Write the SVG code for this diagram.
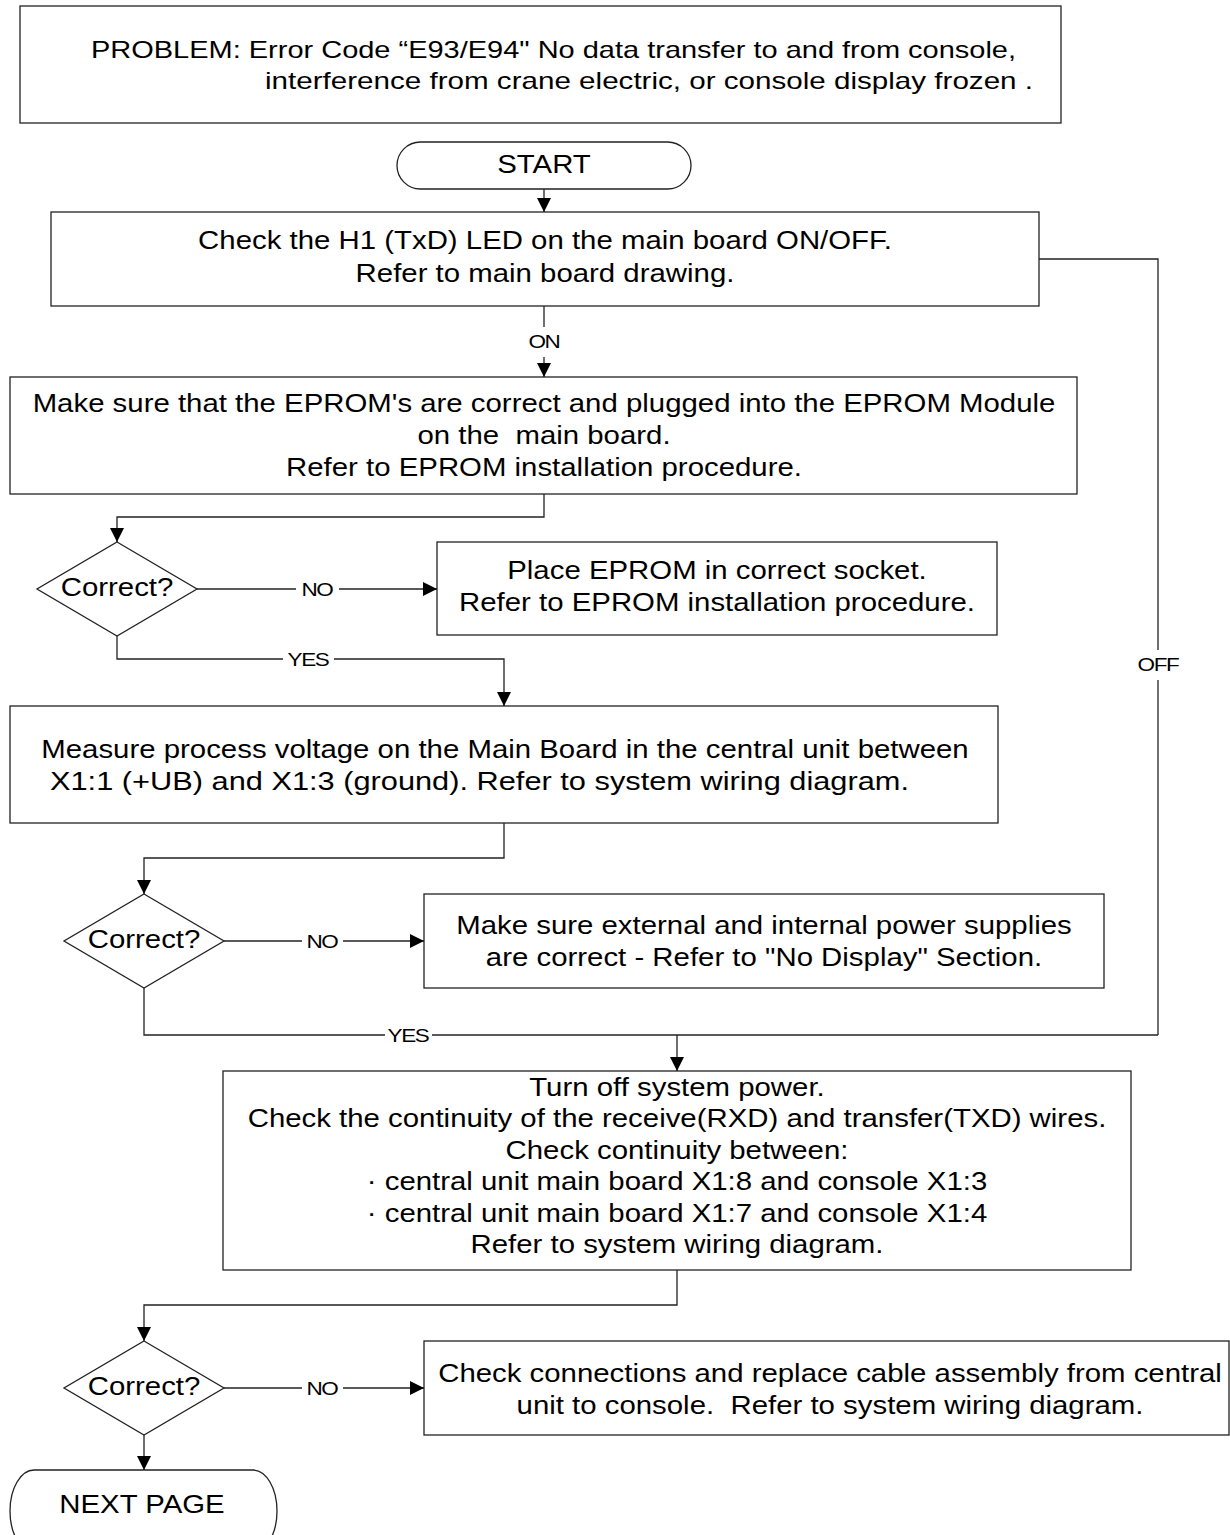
<svg xmlns="http://www.w3.org/2000/svg" width="1230" height="1535" viewBox="0 0 1230 1535">
<defs>
<style>
.box{fill:#fff;stroke:#222;stroke-width:1.3}
.ln{fill:none;stroke:#222;stroke-width:1.3}
.arr{fill:none;stroke:#222;stroke-width:1.3;marker-end:url(#ah)}
.t{font-family:"Liberation Sans",Arial,sans-serif;font-size:26px;fill:#000}
.tc{text-anchor:middle}
.top{font-family:"Liberation Sans",Arial,sans-serif;font-size:24px;fill:#000}
.lb{font-family:"Liberation Sans",Arial,sans-serif;font-size:18px;fill:#000;text-anchor:middle;letter-spacing:-1px}
</style>
<marker id="ah" viewBox="0 0 14 14" refX="14" refY="7" markerWidth="14" markerHeight="14" markerUnits="userSpaceOnUse" orient="auto">
<path d="M0,0 L14,7 L0,14 z" fill="#000"/>
</marker>
</defs>
<rect width="1230" height="1535" fill="#fff"/>

<g id="problem">
<rect class="box" x="20" y="6" width="1041" height="117"/>
<text class="top" x="91" y="58" textLength="925" lengthAdjust="spacingAndGlyphs">PROBLEM: Error Code “E93/E94" No data transfer to and from console,</text>
<text class="top" x="265" y="89" textLength="768" lengthAdjust="spacingAndGlyphs">interference from crane electric, or console display frozen .</text>
</g>

<g id="start">
<rect class="box" x="397" y="142" width="294" height="47" rx="23.5" ry="23.5"/>
<g transform="translate(544 0) scale(1.13 1)"><text class="t tc" x="0" y="173">START</text></g>
</g>

<g id="check-h1">
<rect class="box" x="51" y="212" width="988" height="94"/>
<g transform="translate(545 0) scale(1.13 1)">
<text class="t tc" x="0" y="249">Check the H1 (TxD) LED on the main board ON/OFF.</text>
<text class="t tc" x="0" y="282">Refer to main board drawing.</text>
</g>
</g>

<g id="eprom">
<rect class="box" x="10" y="377" width="1067" height="117"/>
<g transform="translate(544 0) scale(1.13 1)">
<text class="t tc" x="0" y="412">Make sure that the EPROM's are correct and plugged into the EPROM Module</text>
<text class="t tc" x="0" y="444" xml:space="preserve">on the  main board.</text>
<text class="t tc" x="0" y="476">Refer to EPROM installation procedure.</text>
</g>
</g>

<g id="decision1">
<polygon class="box" points="117,542 197,589 117,636 37,589"/>
<g transform="translate(117 0) scale(1.13 1)"><text class="t tc" x="0" y="596">Correct?</text></g>
</g>

<g id="place-eprom">
<rect class="box" x="437" y="542" width="560" height="93"/>
<g transform="translate(717 0) scale(1.13 1)">
<text class="t tc" x="0" y="579">Place EPROM in correct socket.</text>
<text class="t tc" x="0" y="611">Refer to EPROM installation procedure.</text>
</g>
</g>

<g id="measure">
<rect class="box" x="10" y="706" width="988" height="117"/>
<g transform="translate(505 0) scale(1.13 1)">
<text class="t tc" x="0" y="758">Measure process voltage on the Main Board in the central unit between</text>
</g>
<text class="t" x="50" y="790" textLength="859" lengthAdjust="spacingAndGlyphs">X1:1 (+UB) and X1:3 (ground). Refer to system wiring diagram.</text>
</g>

<g id="decision2">
<polygon class="box" points="144,894 224,941 144,988 64,941"/>
<g transform="translate(144 0) scale(1.13 1)"><text class="t tc" x="0" y="948">Correct?</text></g>
</g>

<g id="power-supplies">
<rect class="box" x="424" y="894" width="680" height="94"/>
<g transform="translate(764 0) scale(1.13 1)">
<text class="t tc" x="0" y="934">Make sure external and internal power supplies</text>
<text class="t tc" x="0" y="966">are correct - Refer to "No Display" Section.</text>
</g>
</g>

<g id="continuity">
<rect class="box" x="223" y="1071" width="908" height="199"/>
<g transform="translate(677 0) scale(1.13 1)">
<text class="t tc" x="0" y="1096">Turn off system power.</text>
<text class="t tc" x="0" y="1127">Check the continuity of the receive(RXD) and transfer(TXD) wires.</text>
<text class="t tc" x="0" y="1159">Check continuity between:</text>
<text class="t tc" x="0" y="1190">· central unit main board X1:8 and console X1:3</text>
<text class="t tc" x="0" y="1222">· central unit main board X1:7 and console X1:4</text>
<text class="t tc" x="0" y="1253">Refer to system wiring diagram.</text>
</g>
</g>

<g id="decision3">
<polygon class="box" points="144,1341 224,1388 144,1435 64,1388"/>
<g transform="translate(144 0) scale(1.13 1)"><text class="t tc" x="0" y="1395">Correct?</text></g>
</g>

<g id="replace-cable">
<rect class="box" x="424" y="1341" width="805" height="94"/>
<g transform="translate(830 0) scale(1.13 1)">
<text class="t tc" x="0" y="1382">Check connections and replace cable assembly from central</text>
<text class="t tc" x="0" y="1414" xml:space="preserve">unit to console.  Refer to system wiring diagram.</text>
</g>
</g>

<g id="next-page">
<rect class="box" x="10" y="1470" width="267" height="82" rx="24" ry="41"/>
<g transform="translate(142 0) scale(1.13 1)"><text class="t tc" x="0" y="1513">NEXT PAGE</text></g>
</g>

<g id="connectors">
<path class="arr" d="M544,189 V212"/>
<path class="ln" d="M544,306 V327"/>
<path class="arr" d="M544,357 V377"/>
<path class="arr" d="M544,494 V517 H117 V542"/>
<path class="ln" d="M197,589 H296"/>
<path class="arr" d="M339,589 H437"/>
<path class="ln" d="M117,636 V659 H283"/>
<path class="arr" d="M334,659 H504 V706"/>
<path class="arr" d="M504,823 V858 H144 V894"/>
<path class="ln" d="M224,941 H302"/>
<path class="arr" d="M343,941 H424"/>
<path class="ln" d="M144,988 V1035 H385"/>
<path class="ln" d="M432,1035 H1158"/>
<path class="ln" d="M1039,259 H1158 V650"/>
<path class="ln" d="M1158,680 V1035"/>
<path class="arr" d="M677,1035 V1071"/>
<path class="arr" d="M677,1270 V1305 H144 V1341"/>
<path class="ln" d="M224,1388 H302"/>
<path class="arr" d="M343,1388 H424"/>
<path class="arr" d="M144,1435 V1470"/>
<g transform="translate(544 0) scale(1.25 1)"><text class="lb" x="0" y="348">ON</text></g>
<g transform="translate(317 0) scale(1.25 1)"><text class="lb" x="0" y="596">NO</text></g>
<g transform="translate(308 0) scale(1.25 1)"><text class="lb" x="0" y="666">YES</text></g>
<g transform="translate(322 0) scale(1.25 1)"><text class="lb" x="0" y="948">NO</text></g>
<g transform="translate(408 0) scale(1.25 1)"><text class="lb" x="0" y="1042">YES</text></g>
<g transform="translate(322 0) scale(1.25 1)"><text class="lb" x="0" y="1395">NO</text></g>
<g transform="translate(1158 0) scale(1.25 1)"><text class="lb" x="0" y="671">OFF</text></g>
</g>
</svg>
